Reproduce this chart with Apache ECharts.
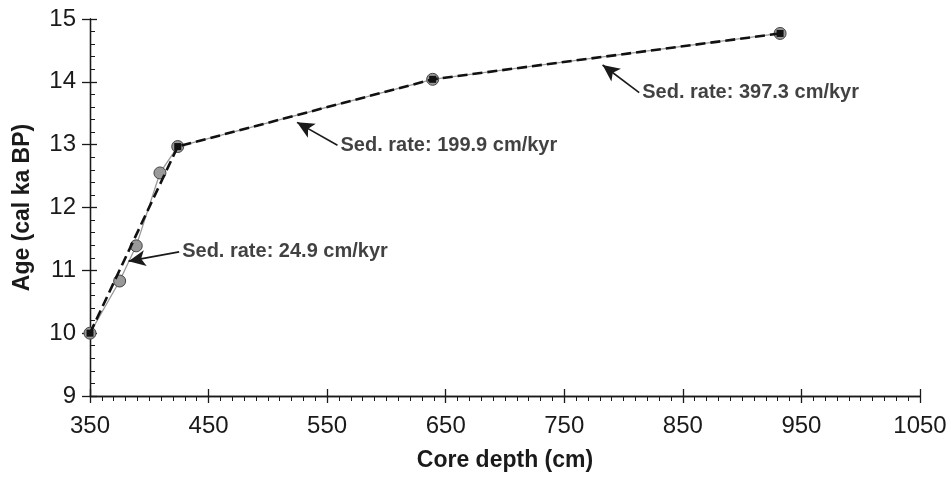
<!DOCTYPE html>
<html>
<head>
<meta charset="utf-8">
<script src="https://cdn.jsdelivr.net/npm/echarts@6/dist/echarts.min.js"></script>
<style>html,body{margin:0;padding:0;background:#fff}#c{width:951px;height:479px}</style>
</head>
<body>
<div id="c"></div>
<script>
// Measured samples (grey circles): depth (cm) and age (cal ka BP)
const sampleDepth = [350, 375, 389, 409, 424, 639, 932];
const sampleAge   = [10.0, 10.83, 11.39, 12.55, 12.97, 14.04, 14.77];
// Age-model tie points (dashed segments)
const tieDepth = [350, 424, 639, 932];
const tieAge   = [10.0, 12.97, 14.04, 14.77];
// Annotations: text, anchor (text start) and arrow tip in data units
const noteText  = ['Sed. rate: 24.9 cm/kyr', 'Sed. rate: 199.9 cm/kyr', 'Sed. rate: 397.3 cm/kyr'];
const noteDepth = [425.2, 558.7, 813.2];
const noteAge   = [11.294, 12.99, 13.83];
const tipDepth  = [382.5, 524.6, 782.3];
const tipAge    = [11.146, 13.355, 14.268];
// Axes
const xMin = 350, xMax = 1050, xStep = 100;
const yMin = 9, yMax = 15, yStep = 1;

const FONT = 'Liberation Sans, Arial, sans-serif';
const INK = '#1a1a1a';

const chart = echarts.init(document.getElementById('c'), null, {renderer: 'canvas'});

const baseX = {
  type: 'value', min: xMin, max: xMax, interval: xStep, position: 'bottom',
  splitLine: {show: false},
  axisLine: {show: true, onZero: false, lineStyle: {color: INK, width: 1.3}}
};
const baseY = {
  type: 'value', min: yMin, max: yMax, interval: yStep, position: 'left',
  splitLine: {show: false},
  axisLine: {show: true, onZero: false, lineStyle: {color: INK, width: 1.3}}
};

const option = {
  animation: false,
  backgroundColor: '#fff',
  grid: {left: 90, right: 31, top: 19, bottom: 83},
  xAxis: [
    Object.assign({}, baseX, {
      name: 'Core depth (cm)', nameLocation: 'middle', nameGap: 53,
      nameTextStyle: {fontFamily: FONT, fontSize: 23, fontWeight: 'bold', color: INK},
      axisTick: {show: true, inside: false, length: 7, lineStyle: {color: INK, width: 1.3}},
      minorTick: {show: true, splitNumber: 10, length: 5, lineStyle: {color: INK, width: 1}},
      axisLabel: {show: true, margin: 18, fontFamily: FONT, fontSize: 24, color: INK,
        formatter: v => String(v)}
    }),
    Object.assign({}, baseX, {
      axisTick: {show: true, inside: true, length: 7, lineStyle: {color: INK, width: 1.3}},
      axisLabel: {show: false}
    })
  ],
  yAxis: [
    Object.assign({}, baseY, {
      name: 'Age (cal ka BP)', nameLocation: 'middle', nameGap: 56,
      nameTextStyle: {fontFamily: FONT, fontSize: 23, fontWeight: 'bold', color: INK},
      axisTick: {show: true, inside: false, length: 8, lineStyle: {color: INK, width: 1.3}},
      axisLabel: {show: true, margin: 14, fontFamily: FONT, fontSize: 24, color: INK,
        formatter: v => String(v)}
    }),
    Object.assign({}, baseY, {
      axisTick: {show: true, inside: true, length: 7, lineStyle: {color: INK, width: 1.3}},
      minorTick: {show: true, splitNumber: 5, length: 5, lineStyle: {color: INK, width: 1}},
      axisLabel: {show: false}
    })
  ],
  series: [
    {
      type: 'line', name: 'samples', xAxisIndex: 0, yAxisIndex: 0,
      data: sampleDepth.map((d, i) => [d, sampleAge[i]]),
      lineStyle: {color: '#9a9a9a', width: 1.3},
      symbol: 'circle', symbolSize: 12,
      itemStyle: {color: '#999', borderColor: '#444', borderWidth: 1},
      z: 2
    },
    {
      type: 'line', name: 'age model', xAxisIndex: 0, yAxisIndex: 0,
      data: tieDepth.map((d, i) => [d, tieAge[i]]),
      lineStyle: {color: '#111', width: 2.6, type: [10, 5]},
      symbol: 'rect', symbolSize: 7,
      itemStyle: {color: '#111', borderWidth: 0},
      z: 3
    },
    {
      type: 'scatter', name: 'notes', xAxisIndex: 0, yAxisIndex: 0,
      data: noteDepth.map((d, i) => ({value: [d, noteAge[i]], name: noteText[i]})),
      symbolSize: 0,
      label: {
        show: true, position: 'right', distance: 3,
        formatter: p => p.name,
        fontFamily: FONT, fontSize: 20, fontWeight: 'bold', color: '#111'
      },
      markLine: {
        silent: true, animation: false,
        label: {show: false},
        lineStyle: {color: INK, width: 1.6, type: 'solid'},
        symbolSize: [12, 17],
        data: noteDepth.map((d, i) => [
          {coord: [d, noteAge[i]], symbol: 'none'},
          {coord: [tipDepth[i], tipAge[i]], symbol: 'arrow'}
        ])
      },
      z: 4
    }
  ]
};
chart.setOption(option);
</script>
</body>
</html>
